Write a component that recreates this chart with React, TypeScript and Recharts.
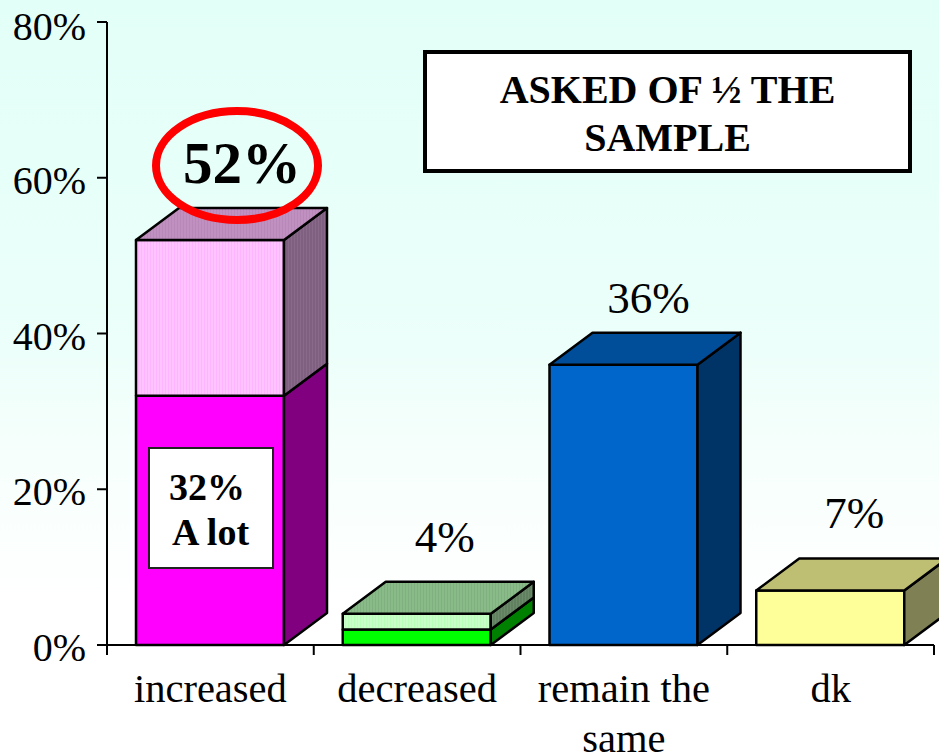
// App.tsx
import React from 'react';
import { BarChart, Bar, XAxis, YAxis, LabelList } from 'recharts';

const categories = ['increased', 'decreased', 'remain the same', 'dk'];
const lowerValues = [32, 2, 36, 7];
const upperValues = [20, 2, 0, 0];
const totals = [52, 4, 36, 7];
const yTicks = [0, 20, 40, 60, 80];

const FONT = '"Liberation Serif", serif';
const DEPTH_X = 43;
const DEPTH_Y = 32;
const TICK_SIZE = 10;
const BAND = 827 / categories.length;

// front, side, top
const lowerColors = [
  ['#ff00ff', '#800080', '#c080c0'],
  ['#00ff00', '#008000', '#80b080'],
  ['#0066cc', '#003366', '#004d99'],
  ['#ffff99', '#808055', '#bfbf73'],
];
const upperColors = [
  ['url(#pinkDots)', 'url(#pinkSide)', 'url(#pinkTop)'],
  ['url(#greenDots)', 'url(#greenSide)', 'url(#greenTop)'],
];

// label nudges from the bar centre / bar top, one per category
const labelShiftX = [32, 28, 25, 24];
const labelLift = [57, 62, 52, 62];

const data = categories.map((name, i) => ({
  name,
  lower: lowerValues[i],
  upper: upperValues[i],
  total: totals[i],
}));

const Box3D = ({ x, y, width, height, colors, withTop }: any) => {
  const right = x + width;
  const bottom = y + height;
  const line = { stroke: '#000', strokeWidth: 2.5, strokeLinejoin: 'round' as const };
  return (
    <g>
      <rect x={x} y={y} width={width} height={height} fill={colors[0]} {...line} />
      <polygon
        points={`${right},${y} ${right + DEPTH_X},${y - DEPTH_Y} ${right + DEPTH_X},${bottom - DEPTH_Y} ${right},${bottom}`}
        fill={colors[1]}
        {...line}
      />
      {withTop && (
        <polygon
          points={`${x},${y} ${x + DEPTH_X},${y - DEPTH_Y} ${right + DEPTH_X},${y - DEPTH_Y} ${right},${y}`}
          fill={colors[2]}
          {...line}
        />
      )}
    </g>
  );
};

const LowerShape = (props: any) => (
  <Box3D {...props} colors={lowerColors[props.index]} withTop={upperValues[props.index] === 0} />
);

const UpperShape = (props: any) => {
  if (upperValues[props.index] === 0) return null;
  return <Box3D {...props} colors={upperColors[props.index]} withTop />;
};

const TotalLabel = ({ x, y, width, value, index }: any) => {
  const big = index === 0;
  return (
    <text
      x={x + width / 2 + labelShiftX[index]}
      y={y - labelLift[index]}
      textAnchor="middle"
      fontFamily={FONT}
      fontSize={big ? 59 : 45}
      fontWeight={big ? 'bold' : 'normal'}
      fill="#000"
    >
      {value}%
    </text>
  );
};

// long category names break before the last word; tick marks sit between categories
const CategoryTick = ({ x, y, payload, index }: any) => {
  const words = String(payload.value).split(' ');
  const lines = words.length > 1 ? [words.slice(0, -1).join(' '), words[words.length - 1]] : words;
  const edge = x + BAND / 2;
  return (
    <g>
      {index === 0 && (
        <line x1={x - BAND / 2} x2={x - BAND / 2} y1={y} y2={y + TICK_SIZE} stroke="#000" strokeWidth={2} />
      )}
      <line x1={edge} x2={edge} y1={y} y2={y + TICK_SIZE} stroke="#000" strokeWidth={2} />
      <text x={x} y={y + 57} textAnchor="middle" fontFamily={FONT} fontSize={40.5} fill="#000">
        {lines.map((line, i) => (
          <tspan key={line} x={x} dy={i === 0 ? 0 : 50}>
            {line}
          </tspan>
        ))}
      </text>
    </g>
  );
};

const dots = (id: string, base: string, dot: string) => (
  <pattern id={id} width={3} height={3} patternUnits="userSpaceOnUse">
    <rect width={3} height={3} fill={base} />
    <rect width={1} height={3} fill={dot} />
  </pattern>
);

const App = () => (
  <div
    style={{
      position: 'absolute',
      left: 0,
      top: 0,
      width: 939,
      height: 754,
      overflow: 'hidden',
      background: 'linear-gradient(#e2fff8 0%, #ecfffa 45%, #f6fffc 60%, #ffffff 80%)',
    }}
  >
    <BarChart
      width={939}
      height={754}
      data={data}
      margin={{ top: 22, right: 5, bottom: 0, left: 0 }}
      barSize={148}
      style={{ fontFamily: FONT }}
    >
      <defs>
        {dots('pinkDots', '#ffc4ff', '#ffb4ff')}
        {dots('pinkSide', '#806080', '#8a6a8a')}
        {dots('pinkTop', '#c090c0', '#b888b8')}
        {dots('greenDots', '#c8ffc8', '#b8ffb8')}
        {dots('greenSide', '#608060', '#6a8a6a')}
        {dots('greenTop', '#88bb88', '#80b080')}
      </defs>
      <XAxis
        dataKey="name"
        height={109}
        interval={0}
        tick={<CategoryTick />}
        tickSize={0}
        tickMargin={0}
        tickLine={false}
        axisLine={{ stroke: '#000', strokeWidth: 2 }}
      />
      <YAxis
        width={107}
        domain={[0, 80]}
        ticks={yTicks}
        tickFormatter={(v: number) => `${v}%`}
        tickSize={10}
        tickMargin={11}
        tick={{ fontFamily: FONT, fontSize: 40, fill: '#000', dy: 2 }}
        tickLine={{ stroke: '#000', strokeWidth: 2 }}
        axisLine={{ stroke: '#000', strokeWidth: 2 }}
      />
      <Bar dataKey="lower" stackId="a" shape={<LowerShape />} isAnimationActive={false} />
      <Bar dataKey="upper" stackId="a" shape={<UpperShape />} isAnimationActive={false}>
        <LabelList dataKey="total" content={<TotalLabel />} />
      </Bar>
    </BarChart>

    <svg width={939} height={754} style={{ position: 'absolute', left: 0, top: 0, pointerEvents: 'none' }}>
      <ellipse cx={237} cy={165.5} rx={81} ry={54.5} fill="none" stroke="#ff0000" strokeWidth={8} />
    </svg>

    <div
      style={{
        position: 'absolute',
        left: 423,
        top: 50,
        width: 489,
        height: 123,
        boxSizing: 'border-box',
        border: '4px solid #000',
        background: '#fff',
        fontFamily: FONT,
        fontWeight: 'bold',
        fontSize: 40,
        lineHeight: '48px',
        textAlign: 'center',
        paddingTop: 12,
      }}
    >
      ASKED OF ½ THE
      <br />
      SAMPLE
    </div>

    <div
      style={{
        position: 'absolute',
        left: 148,
        top: 447,
        width: 126,
        height: 122,
        boxSizing: 'border-box',
        border: '2px solid #222',
        background: '#fff',
        fontFamily: FONT,
        fontWeight: 'bold',
        fontSize: 38,
        lineHeight: '44px',
      }}
    >
      <div style={{ position: 'absolute', left: 19, top: 16 }}>32%</div>
      <div style={{ position: 'absolute', left: 22, top: 61 }}>A lot</div>
    </div>
  </div>
);

export default App;
